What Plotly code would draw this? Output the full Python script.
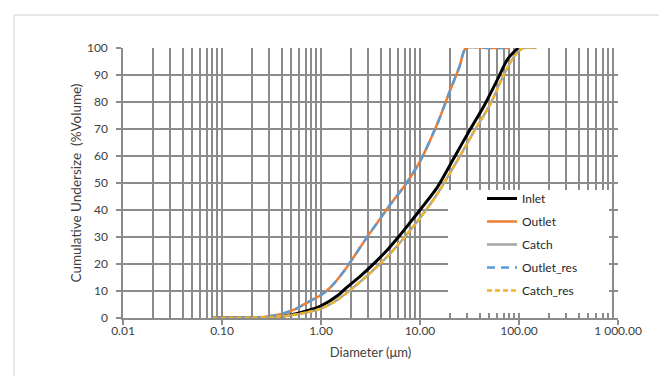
import plotly.graph_objects as go

# ---- data ----
inlet_d = [0.08, 0.2, 0.3, 0.5, 0.7, 1.0, 1.5, 1.75, 2.5, 3.5, 4.75, 6.0, 8.0, 10.0, 15.0, 20.0, 23.0, 30.0, 45.0, 60.0, 77.0, 98.0]
inlet_v = [0.0, 0.1, 0.3, 1.2, 2.5, 4.5, 8.5, 10.8, 15.5, 20.5, 25.5, 29.8, 35.5, 40.0, 48.5, 56.5, 60.5, 68.0, 79.0, 88.0, 96.0, 100.0]

outlet_d = [0.08, 0.15, 0.25, 0.4, 0.55, 0.75, 1.0, 1.26, 1.6, 1.88, 2.86, 4.0, 5.0, 7.0, 10.0, 15.0, 20.0, 25.0, 29.0, 50.0, 80.0]
outlet_v = [0.0, 0.05, 0.3, 1.5, 3.3, 6.0, 8.5, 11.5, 16.0, 19.5, 29.5, 37.0, 42.0, 49.0, 58.0, 72.0, 84.0, 93.0, 100.0, 100.0, 100.0]

catch_d = [0.08, 0.2, 0.3, 0.5, 0.7, 1.0, 1.5, 2.0, 3.0, 4.75, 7.0, 10.0, 15.0, 24.0, 35.0, 51.0, 70.0, 90.0, 110.0, 150.0]
catch_v = [0.0, 0.1, 0.3, 1.0, 2.0, 3.5, 7.0, 10.5, 16.0, 23.0, 30.0, 37.0, 46.0, 58.5, 69.0, 79.0, 90.0, 97.0, 100.0, 100.0]

outlet_res_d = outlet_d
outlet_res_v = outlet_v
catch_res_d = catch_d
catch_res_v = catch_v

x_tickvals = [0.01, 0.1, 1, 10, 100, 1000]
x_ticktext = ["0.01", "0.10", "1.00", "10.00", "100.00", "1 000.00"]
y_tickvals = [0, 10, 20, 30, 40, 50, 60, 70, 80, 90, 100]

x_minor = [m * 10 ** e for e in range(-2, 3) for m in range(2, 10)]

FONT = "Lato"
GRID = "#8c8c8c"
TXT = "#404040"

fig = go.Figure()
fig.add_trace(go.Scatter(x=inlet_d, y=inlet_v, name="Inlet", mode="lines", legendgroup="a",
                         line=dict(color="#000000", width=3, shape="spline", smoothing=0.7)))
fig.add_trace(go.Scatter(x=outlet_d, y=outlet_v, name="Outlet", mode="lines", legendgroup="b",
                         line=dict(color="#ed7d31", width=2.5, shape="spline", smoothing=0.6)))
fig.add_trace(go.Scatter(x=catch_d, y=catch_v, name="Catch", mode="lines", legendgroup="c",
                         line=dict(color="#a5a5a5", width=2.5, shape="spline", smoothing=0.7)))
fig.add_trace(go.Scatter(x=outlet_res_d, y=outlet_res_v, name="Outlet_res", mode="lines", legendgroup="d",
                         line=dict(color="#5b9bd5", width=2.5, dash="8px,6px", shape="spline", smoothing=0.6)))
fig.add_trace(go.Scatter(x=catch_res_d, y=catch_res_v, name="Catch_res", mode="lines", legendgroup="e",
                         line=dict(color="#f0b323", width=2.5, dash="5px,3px", shape="spline", smoothing=0.7)))

L, R, T, B = 115, 57, 40, 66
PW, PH = 667 - L - R, 376 - T - B

def px_x(p):
    return (p - L) / PW

def px_y(p):
    return (376 - B - p) / PH

fig.update_layout(
    width=667, height=376,
    margin=dict(l=L, r=R, t=T, b=B),
    paper_bgcolor="white", plot_bgcolor="white",
    font=dict(family=FONT, size=12, color=TXT),
    showlegend=True,
    legend=dict(x=px_x(474), y=px_y(176), xanchor="left", yanchor="top",
                bgcolor="rgba(0,0,0,0)", font=dict(size=12, color="#262626"),
                tracegroupgap=4, itemwidth=30),
    shapes=[
        dict(type="rect", xref="paper", yref="paper", x0=px_x(440), x1=px_x(601),
             y0=px_y(305), y1=px_y(182), fillcolor="white", line=dict(width=0), layer="above"),
        dict(type="rect", xref="paper", yref="paper", x0=px_x(6), x1=px_x(660),
             y0=px_y(369), y1=px_y(7), fillcolor="rgba(0,0,0,0)",
             line=dict(color="#d0d0d0", width=1), layer="below"),
    ],
)

fig.update_xaxes(
    type="log", range=[-2, 3],
    tickvals=x_tickvals, ticktext=x_ticktext,
    ticks="outside", ticklen=5, tickcolor=GRID, tickwidth=1.5,
    ticklabelstandoff=-4,
    showgrid=True, gridcolor=GRID, gridwidth=1.5,
    showline=True, linecolor=GRID, linewidth=1.5,
    zeroline=False,
    minor=dict(tickvals=x_minor, ticks="inside", ticklen=5, tickcolor=GRID, tickwidth=1,
               showgrid=True, gridcolor=GRID, gridwidth=1.5),
    tickfont=dict(size=12, color=TXT),
    title=dict(text="Diameter (μm)", font=dict(size=13, color=TXT), standoff=11),
)
fig.update_yaxes(
    range=[0, 100], tickvals=y_tickvals,
    ticks="outside", ticklen=5, tickcolor=GRID, tickwidth=1.5,
    ticklabelstandoff=6,
    showgrid=True, gridcolor=GRID, gridwidth=1.5,
    showline=True, linecolor=GRID, linewidth=1.5,
    zeroline=False,
    tickfont=dict(size=12, color=TXT),
    title=dict(text="Cumulative Undersize  (%Volume)", font=dict(size=13.5, color=TXT), standoff=2),
)

fig.write_html("out.html")
